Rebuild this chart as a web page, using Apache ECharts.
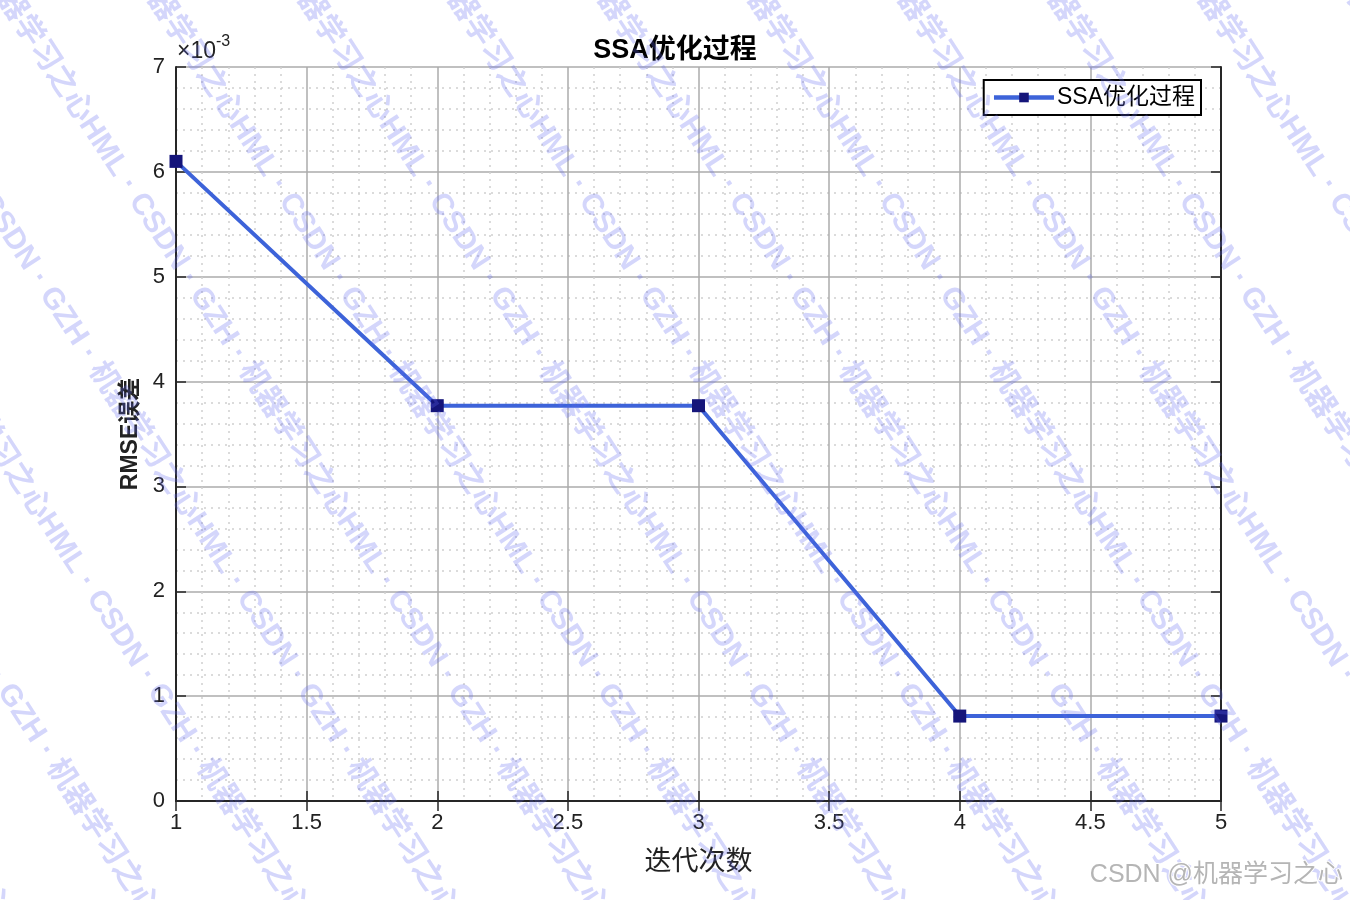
<!DOCTYPE html>
<html>
<head>
<meta charset="utf-8">
<script src="https://cdn.jsdelivr.net/npm/echarts@6/dist/echarts.min.js"></script>
<style>html,body{margin:0;padding:0;background:#fff;}#chart{width:1350px;height:900px;}</style>
</head>
<body>
<div id="chart"></div>
<script>
// ---- data ----
var iterations = [1, 2, 3, 4, 5];
var rmseValues = [0.0061, 0.00377, 0.00377, 0.00081, 0.00081];
var seriesName = 'SSA优化过程';
var chartTitle = 'SSA优化过程';
var xName = '迭代次数';
var yName = 'RMSE误差';

var FONT = "'Liberation Sans', Arial, 'Noto Sans CJK SC', sans-serif";
var chart = echarts.init(document.getElementById('chart'));

var pts = iterations.map(function (x, i) { return [x, rmseValues[i]]; });

// watermark decoration
var wm = [];
var phrase = '机器学习之心HML · CSDN · GZH · 机器学习之心HML · CSDN · GZH · 机器学习之心HML · CSDN · GZH ·';
var ang = -57 * Math.PI / 180;
for (var k = -8; k < 14; k++) {
  wm.push({
    type: 'text', x: k * 150, y: -40, rotation: ang, z: 100, silent: true,
    style: { text: phrase, fill: 'rgba(95,105,240,0.27)', font: 'bold 30px ' + FONT }
  });
}

var axisCommon = {
  type: 'value',
  axisLine: { show: true, lineStyle: { color: '#262626', width: 2 } },
  axisTick: { show: true, inside: true, length: 10, lineStyle: { color: '#262626', width: 1.5 } },
  minorTick: { show: false, splitNumber: 5 },
  splitLine: { show: false },
  minorSplitLine: { show: false }
};

var option = {
  backgroundColor: '#fff',
  animation: false,
  title: {
    text: chartTitle, left: 'center', top: 32,
    textStyle: { fontFamily: FONT, fontSize: 27, fontWeight: 'bold', color: '#000' }
  },
  legend: {
    right: 149, top: 80,
    data: [seriesName],
    backgroundColor: '#fff',
    borderColor: '#000', borderWidth: 2, borderRadius: 0,
    padding: [6, 6, 6, 8],
    itemWidth: 60, itemHeight: 12, itemGap: 4,
    lineStyle: { width: 4.5 },
    textStyle: { fontFamily: FONT, fontSize: 23, color: '#000', padding: [0, 0, 0, -2] }
  },
  grid: { left: 176, right: 129, top: 67, bottom: 99 },
  xAxis: [
    Object.assign({}, axisCommon, {
      min: 1, max: 5, interval: 0.5, position: 'bottom',
      name: xName, nameLocation: 'middle', nameGap: 45,
      nameTextStyle: { fontFamily: "'Noto Sans CJK SC', sans-serif", fontSize: 27, color: '#222' },
      axisLabel: { fontFamily: FONT, fontSize: 22, color: '#222', margin: 11,
        formatter: function (v) { return String(Math.round(v * 10) / 10); } },
      splitLine: { show: true, lineStyle: { color: '#ababab', width: 1.5 } },
      minorSplitLine: { show: true, lineStyle: { color: '#d0d0d0', width: 1.5, type: [2, 5] } },
      minorTick: { show: false, splitNumber: 5 }
    }),
    Object.assign({}, axisCommon, {
      min: 1, max: 5, interval: 0.5, position: 'top', axisLabel: { show: false }
    })
  ],
  yAxis: [
    Object.assign({}, axisCommon, {
      min: 0, max: 0.007, interval: 0.001, position: 'left',
      name: yName, nameLocation: 'middle', nameGap: 30,
      nameTextStyle: { fontFamily: FONT, fontSize: 23, fontWeight: 'bold', color: '#222' },
      axisLabel: { fontFamily: FONT, fontSize: 22, color: '#222', margin: 11,
        formatter: function (v) { return String(Math.round(v * 1000)); } },
      splitLine: { show: true, lineStyle: { color: '#ababab', width: 1.5 } },
      minorSplitLine: { show: true, lineStyle: { color: '#d0d0d0', width: 1.5, type: [2, 5] } },
      minorTick: { show: false, splitNumber: 5 }
    }),
    Object.assign({}, axisCommon, {
      min: 0, max: 0.007, interval: 0.001, position: 'right', axisLabel: { show: false }
    })
  ],
  series: [{
    name: seriesName,
    type: 'line',
    data: pts,
    xAxisIndex: 0, yAxisIndex: 0,
    symbol: 'rect', symbolSize: 13,
    showAllSymbol: true,
    clip: false,
    lineStyle: { color: '#3d63d9', width: 4 },
    itemStyle: { color: '#15157a', borderColor: '#15157a', borderWidth: 0 },
    z: 5
  }],
  graphic: [
    {
      type: 'text', left: 177, top: 34, z: 10,
      style: {
        text: '{a|×10}{b|-3}', fill: '#222',
        rich: {
          a: { fontFamily: FONT, fontSize: 23, color: '#222', verticalAlign: 'bottom' },
          b: { fontFamily: FONT, fontSize: 16, color: '#222', verticalAlign: 'top', padding: [0, 0, 13, 0] }
        }
      }
    },
    {
      type: 'text', right: 6, top: 862, z: 110,
      style: {
        text: 'CSDN @机器学习之心', fill: '#b5b5b5',
        font: '25px ' + FONT, stroke: '#fff', lineWidth: 2
      }
    }
  ].concat(wm)
};
chart.setOption(option);
</script>
</body>
</html>
